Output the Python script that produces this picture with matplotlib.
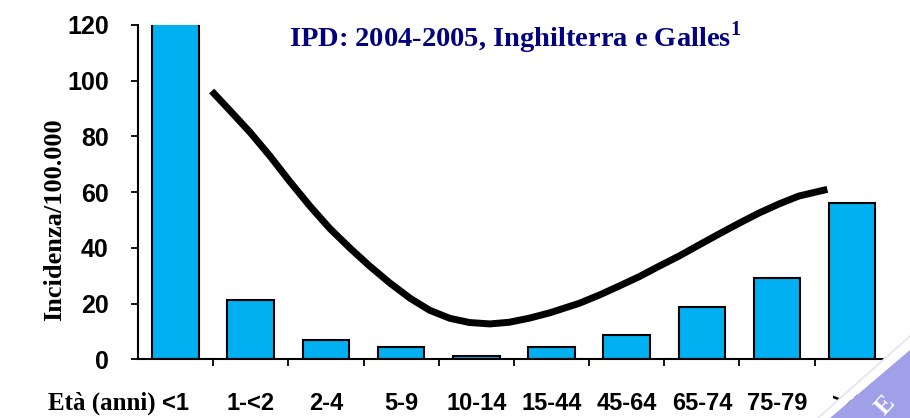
import matplotlib
matplotlib.use('Agg')
import matplotlib.pyplot as plt
from matplotlib.patches import Polygon
from matplotlib.lines import Line2D

plt.rcParams['mathtext.fontset'] = 'custom'
plt.rcParams['mathtext.bf'] = 'Liberation Serif:bold'
plt.rcParams['mathtext.rm'] = 'Liberation Serif'

# age groups and incidence per 100,000
categories = ['<1', '1-<2', '2-4', '5-9', '10-14', '15-44', '45-64', '65-74', '75-79', '>80']
incidence = [125, 21.2, 6.8, 4.3, 1.1, 4.3, 8.6, 18.7, 29.1, 56.1]

# trend curve (category position, incidence)
trend_x = [0.48, 0.73, 0.99, 1.26, 1.52, 1.79, 2.05, 2.32, 2.58, 2.85, 3.12,
           3.38, 3.65, 3.91, 4.18, 4.44, 4.71, 4.98, 5.37, 5.64, 5.90, 6.17,
           6.43, 6.70, 6.96, 7.23, 7.50, 7.76, 8.03, 8.29, 8.67]
trend_y = [96.3, 89.1, 81.5, 72.8, 63.8, 54.9, 47.0, 39.9, 33.5, 27.4, 21.9,
           17.6, 14.7, 13.2, 12.7, 13.3, 14.8, 16.7, 20.1, 23.1, 26.3, 29.7,
           33.4, 37.1, 41.0, 45.0, 48.9, 52.5, 55.8, 58.6, 61.0]

yticks = [0, 20, 40, 60, 80, 100, 120]

W, H = 910, 418
fig = plt.figure(figsize=(W / 100, H / 100), dpi=100)
ax = fig.add_axes([138 / W, 1 - 359.3 / H, (886 - 138) / W, (359.3 - 25) / H])

xs = list(range(len(categories)))
ax.bar(xs, incidence, width=0.62, color='#00b0f0', edgecolor='black', linewidth=1.5, zorder=2)
ax.plot(trend_x, trend_y, color='black', linewidth=5, solid_capstyle='butt',
        solid_joinstyle='round', zorder=3)

ax.set_xlim(-0.5, 9.45)
ax.set_ylim(0, 120)
ax.set_yticks(yticks)
ax.set_yticklabels([str(v) for v in yticks], fontfamily='Liberation Sans',
                   fontweight='bold', fontsize=18)
ax.set_xticks([i + 0.5 for i in range(len(categories) - 1)])
ax.set_xticklabels([])
ax.tick_params(axis='y', direction='out', length=5, width=1.3, pad=16)
ax.tick_params(axis='x', direction='out', length=5, width=1.3)
for s in ['top', 'right']:
    ax.spines[s].set_visible(False)
for s in ['left', 'bottom']:
    ax.spines[s].set_linewidth(1.5)

# category labels under the axis
xt = ax.get_xaxis_transform()
for i, lab in enumerate(categories):
    ax.text(i, -0.131, lab, transform=xt, ha='center', va='center',
            fontfamily='Liberation Sans', fontweight='bold', fontsize=17, clip_on=False)
fig.text(48 / W, 1 - 403 / H, 'Età (anni)', ha='left', va='center',
         fontfamily='Liberation Serif', fontweight='bold', fontsize=18)

fig.text(55 / W, 1 - 220 / H, 'Incidenza/100.000', rotation=90, ha='center', va='center',
         fontfamily='Liberation Serif', fontweight='bold', fontsize=19)

fig.text(515 / W, 1 - 38 / H, r'IPD: 2004-2005, Inghilterra e Galles$^{\mathbf{1}}$',
         ha='center', va='center', color='#000080', fontfamily='Liberation Serif',
         fontweight='bold', fontsize=20.5)

# watermark corner
fig.add_artist(Polygon([(818 / W, 0), (830 / W, 0), (1.0, 1 - 350 / H), (1.0, 1 - 336 / H)],
                       closed=True, transform=fig.transFigure, facecolor='white',
                       edgecolor='none'))
fig.add_artist(Line2D([818 / W, 1.0], [0, 1 - 336 / H], transform=fig.transFigure,
                      color='#e4e4f4', linewidth=1.2))
fig.add_artist(Polygon([(830 / W, 0), (1.0, 0), (1.0, 1 - 350 / H)], closed=True,
                       transform=fig.transFigure, facecolor='#a0a0e8', edgecolor='none'))
fig.text(885 / W, 1 - 405 / H, 'E', color='white', rotation=48, ha='center', va='center',
         fontfamily='Liberation Serif', fontweight='bold', fontsize=18)

fig.savefig('out.png', dpi=100)
